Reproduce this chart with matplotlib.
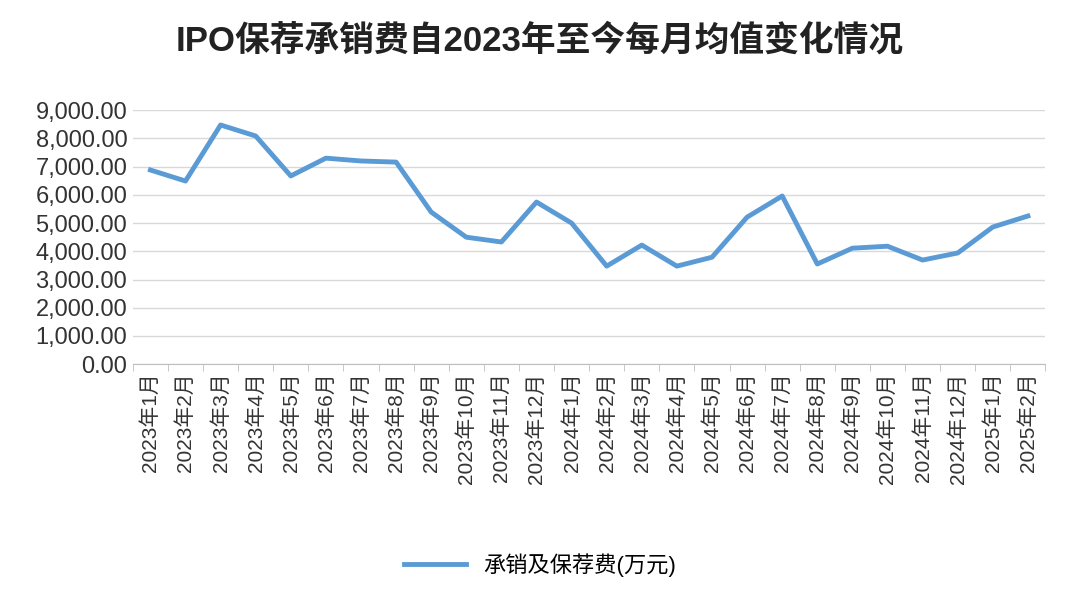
import matplotlib
matplotlib.use('Agg')
import matplotlib.pyplot as plt
from matplotlib.ticker import FuncFormatter, FixedLocator

plt.rcParams['font.family'] = ['Liberation Sans', 'Noto Sans CJK SC', 'DejaVu Sans']

months = ['2023年1月', '2023年2月', '2023年3月', '2023年4月', '2023年5月', '2023年6月',
          '2023年7月', '2023年8月', '2023年9月', '2023年10月', '2023年11月', '2023年12月',
          '2024年1月', '2024年2月', '2024年3月', '2024年4月', '2024年5月', '2024年6月',
          '2024年7月', '2024年8月', '2024年9月', '2024年10月', '2024年11月', '2024年12月',
          '2025年1月', '2025年2月']
fees = [6880, 6490, 8475, 8085, 6670, 7300, 7200, 7160, 5390, 4500, 4330, 5745,
        5000, 3475, 4220, 3475, 3790, 5210, 5960, 3550, 4110, 4180, 3690, 3940,
        4860, 5250]

fig = plt.figure(figsize=(10.8, 6.02), dpi=100)
ax = fig.add_axes([0.123, 0.395, 0.845, 0.422])
x = range(len(months))
ax.plot(x, fees, color='#5b9bd5', lw=3.5, label='承销及保荐费(万元)', solid_joinstyle='round')

ax.set_xlim(-0.5, len(months) - 0.5)
ax.set_ylim(0, 9000)
ax.set_yticks(range(0, 9001, 1000))
ax.yaxis.set_major_formatter(FuncFormatter(lambda v, p: f'{v:,.2f}'))
ax.tick_params(axis='y', length=0, labelsize=17, colors='#333333', pad=4)
ax.grid(axis='y', color='#d9d9d9', lw=1)
ax.set_axisbelow(True)

ax.set_xticks(list(x))
ax.set_xticklabels(months, rotation=90, fontsize=15, color='#333333')
ax.tick_params(axis='x', length=0, pad=6)
ax.xaxis.set_minor_locator(FixedLocator([i - 0.5 for i in range(len(months) + 1)]))
ax.tick_params(axis='x', which='minor', length=5, color='#bfbfbf')

for s in ['top', 'right', 'left']:
    ax.spines[s].set_visible(False)
ax.spines['bottom'].set_color('#bfbfbf')

fig.suptitle('IPO保荐承销费自2023年至今每月均值变化情况', x=0.5, y=0.96,
             fontsize=25, fontweight='bold', color='#222222')
fig.legend(loc='center', bbox_to_anchor=(0.5, 0.062), frameon=False, fontsize=16,
           handlelength=2.8)

fig.savefig('out.png', dpi=100, facecolor='white')
